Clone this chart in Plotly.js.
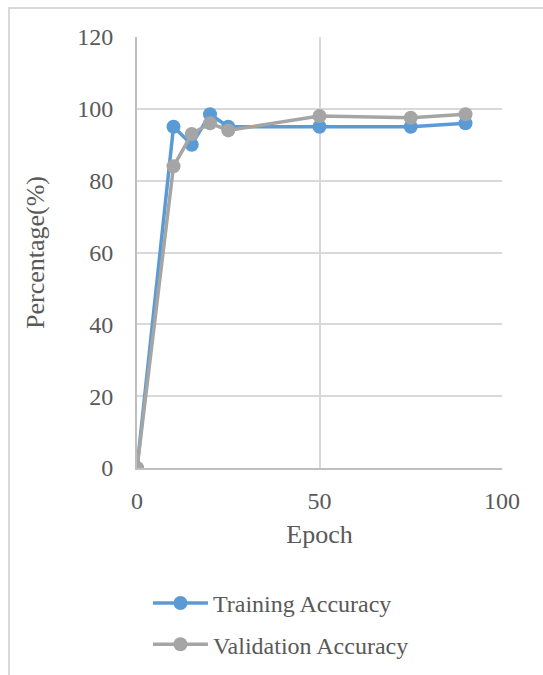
<!DOCTYPE html>
<html>
<head>
<meta charset="utf-8">
<script src="https://cdn.plot.ly/plotly-3.0.1.min.js"></script>
<style>
  html, body { margin: 0; padding: 0; background: #fff; }
  #wrap { position: relative; width: 543px; height: 675px; overflow: hidden; }
  #chart { width: 543px; height: 675px; }
  #frame { position: absolute; left: 8px; top: 7px; width: 600px; height: 700px;
           border-left: 2px solid #d9d9d9; border-top: 2px solid #d9d9d9; pointer-events: none; }
</style>
</head>
<body>
<div id="wrap">
  <div id="chart"></div>
  <div id="frame"></div>
</div>
<script>
// Epochs at which accuracy was recorded
const epochs = [0, 10, 15, 20, 25, 50, 75, 90];
// Accuracy (%) on the training and validation sets
const trainingAcc = [0, 95, 90, 98.5, 95, 95, 95, 96];
const validationAcc = [0, 84, 93, 96, 94, 98, 97.5, 98.5];

const font = { family: 'Liberation Serif, Times New Roman, serif', color: '#595959' };

const traces = [
  {
    x: epochs, y: trainingAcc, name: 'Training Accuracy', type: 'scatter', mode: 'lines+markers',
    legendgroup: 'train',
    line: { color: '#5b9bd5', width: 3.5 },
    marker: { color: '#5b9bd5', size: 14 }
  },
  {
    x: epochs, y: validationAcc, name: 'Validation Accuracy', type: 'scatter', mode: 'lines+markers',
    legendgroup: 'val',
    line: { color: '#a5a5a5', width: 3.5 },
    marker: { color: '#a5a5a5', size: 14 }
  }
];

const layout = {
  width: 543, height: 675,
  margin: { l: 137, r: 41, t: 37, b: 207, autoexpand: false },
  paper_bgcolor: '#fff', plot_bgcolor: '#fff',
  font: Object.assign({ size: 24 }, font),
  showlegend: true,
  legend: {
    x: 0.03, y: -0.262, xanchor: 'left', yanchor: 'top',
    orientation: 'v', font: Object.assign({ size: 24 }, font),
    traceorder: 'grouped', tracegroupgap: 7, itemwidth: 55, bgcolor: 'rgba(0,0,0,0)'
  },
  xaxis: {
    range: [0, 100], tickvals: [0, 50, 100], ticks: '', zeroline: false,
    showgrid: true, gridcolor: '#d9d9d9', gridwidth: 2,
    showline: true, linecolor: '#bfbfbf', linewidth: 2,
    ticklabelstandoff: 10, automargin: false,
    tickfont: Object.assign({ size: 24 }, font),
    title: { text: 'Epoch', font: Object.assign({ size: 26 }, font), standoff: 12 }
  },
  yaxis: {
    range: [0, 120], tickvals: [0, 20, 40, 60, 80, 100, 120], ticks: '', zeroline: false,
    showgrid: true, gridcolor: '#d9d9d9', gridwidth: 2,
    showline: true, linecolor: '#bfbfbf', linewidth: 2,
    ticklabelstandoff: 17, automargin: false,
    tickfont: Object.assign({ size: 24 }, font),
    title: { text: 'Percentage(%)', font: Object.assign({ size: 26 }, font), standoff: 25 }
  }
};

Plotly.newPlot('chart', traces, layout, { displayModeBar: false, staticPlot: true });
</script>
</body>
</html>
